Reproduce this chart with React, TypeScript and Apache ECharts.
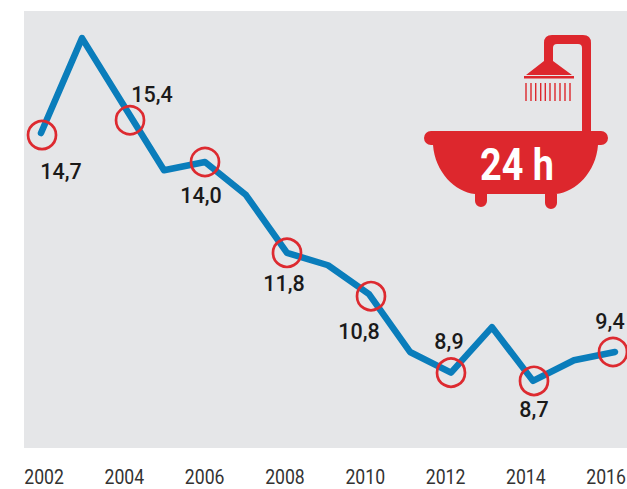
import React, { useEffect, useRef } from "react";
import * as echarts from "echarts";

const years = [2002, 2003, 2004, 2005, 2006, 2007, 2008, 2009, 2010, 2011, 2012, 2013, 2014, 2015, 2016];
const values = [14.7, 17.0, 15.4, 13.8, 14.0, 13.2, 11.8, 11.5, 10.8, 9.4, 8.9, 10.0, 8.7, 9.2, 9.4];
const labelledYears = [2002, 2004, 2006, 2008, 2010, 2012, 2014, 2016];
const labelOffsets = [[20, 38], [29, -10], [-4, 34], [-3, 31], [-10, 37], [-2, -31], [1, 29], [-5, -30]];
const circleOffsets = [[1, 2], [7, 16], [0, 0], [0, 0], [2, 2], [0, 0], [1, 0], [-2, 0]];

const FONT = 'Roboto, sans-serif';

const tubPath =
  "M431 131 L601 131 A7 7 0 0 1 601 145 L598 145 C596 172 576 192 556 194 L557 194 L557 203 A6 6 0 0 1 545 203 L545 194 L487 194 L487 201 A6 6 0 0 1 475 201 L475 194 C455 192 435 172 433 145 L431 145 A7 7 0 0 1 431 131 Z";
const pipePath =
  "M582 132 L582 48 Q582 44 578 44 L557 44 Q553 44 553 48 L553 61 L572 75 L526 75 L544 61 L544 43 Q544 35 552 35 L583 35 Q591 35 591 43 L591 132 Z M524 76 L574 76 L574 78.5 L524 78.5 Z";
const dropPath = [526, 531, 535.7, 540.7, 545.3, 550, 555, 560, 565, 570]
  .map((x) => `M${x - 0.7} 83 L${x + 0.7} 83 L${x + 0.7} 101 L${x - 0.7} 101 Z`)
  .join(" ");

echarts.graphic.registerShape("tubShape", echarts.graphic.extendPath(tubPath, {}) as any);
echarts.graphic.registerShape("pipeShape", echarts.graphic.extendPath(pipePath, {}) as any);
echarts.graphic.registerShape("dropShape", echarts.graphic.extendPath(dropPath, {}) as any);

const valueOf = (y: number) => values[years.indexOf(y)];

export default function App() {
  const ref = useRef<HTMLDivElement>(null);
  useEffect(() => {
    const chart = echarts.init(ref.current!, undefined, { renderer: "svg" });
    chart.setOption({
      animation: false,
      grid: {
        left: 24,
        top: 11,
        width: 603,
        height: 437,
        show: true,
        backgroundColor: "#e5e6e8",
        borderWidth: 0,
        outerBoundsMode: "none",
      },
      xAxis: [
        { type: "value", min: 2001.585, max: 2016.293, show: false },
        { type: "value", min: 2001.5, max: 2016.52, show: false },
      ],
      yAxis: { type: "value", min: 7.075, max: 17.656, show: false },
      series: [
        {
          type: "line",
          xAxisIndex: 0,
          data: years.map((y, i) => [y, values[i]]),
          showSymbol: false,
          symbol: "none",
          lineStyle: { color: "#0a7dbb", width: 6.5, join: "round", cap: "round" },
        },
        {
          type: "scatter",
          xAxisIndex: 0,
          symbol: "circle",
          symbolSize: 28,
          itemStyle: { color: "transparent", borderColor: "#dd2a30", borderWidth: 2.7, opacity: 1 },
          data: labelledYears.map((y, i) => ({ value: [y, valueOf(y)], symbolOffset: circleOffsets[i] })),
          z: 3,
        },
        {
          type: "scatter",
          xAxisIndex: 0,
          symbolSize: 1,
          itemStyle: { color: "transparent", opacity: 1 },
          data: labelledYears.map((y, i) => ({
            value: [y, valueOf(y)],
            label: {
              show: true,
              position: "inside",
              offset: labelOffsets[i],
              formatter: valueOf(y).toFixed(1).replace(".", ","),
              color: "#1a1a1a",
              fontSize: 21.5,
              fontWeight: 500,
              fontFamily: FONT,
            },
          })),
          z: 4,
        },
      ],
    });
    chart.setOption({
      graphic: [
        { type: "tubShape", x: 0, y: 0, style: { fill: "#dd272d" } },
        { type: "pipeShape", x: 0, y: 0, style: { fill: "#dd272d" } },
        { type: "dropShape", x: 0, y: 0, style: { fill: "#dd272d" } },
        {
          type: "text",
          x: 517,
          y: 164,
          scaleX: 0.84,
          style: {
            text: "24 h",
            fill: "#fff",
            fontSize: 45,
            fontWeight: "bold",
            fontFamily: FONT,
            textAlign: "center",
            textVerticalAlign: "middle",
          },
        },
        ...labelledYears.map((y) => ({
          type: "text",
          x: chart.convertToPixel({ xAxisIndex: 1 }, y),
          y: 477,
          scaleX: 0.86,
          style: {
            text: String(y),
            fill: "#333",
            fontSize: 20.5,
            fontFamily: FONT,
            textAlign: "center",
            textVerticalAlign: "middle",
          },
        })),
      ],
    });
    return () => chart.dispose();
  }, []);
  return <div ref={ref} style={{ position: "absolute", left: 0, top: 0, width: 627, height: 489 }} />;
}
